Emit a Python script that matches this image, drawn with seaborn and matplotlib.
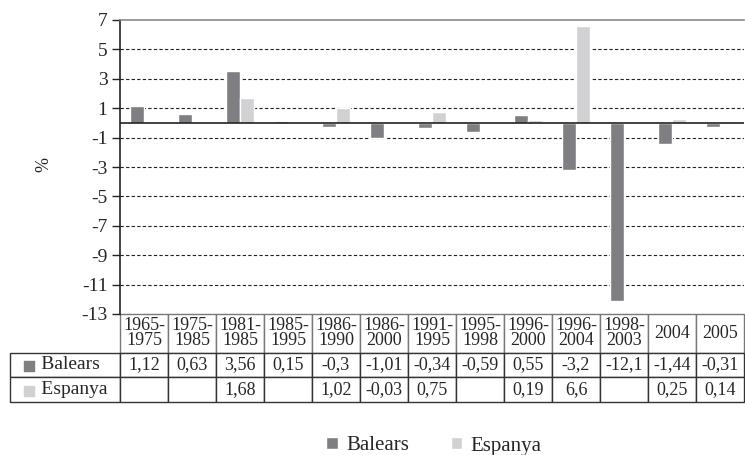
import numpy as np
import pandas as pd
import matplotlib
matplotlib.use('Agg')
import matplotlib.pyplot as plt
import seaborn as sns

# dades
periodes = ['1965-\n1975', '1975-\n1985', '1981-\n1985', '1985-\n1995', '1986-\n1990',
            '1986-\n2000', '1991-\n1995', '1995-\n1998', '1996-\n2000', '1996-\n2004',
            '1998-\n2003', '2004', '2005']
balears = [1.12, 0.63, 3.56, 0.15, -0.3, -1.01, -0.34, -0.59, 0.55, -3.2, -12.1, -1.44, -0.31]
espanya = [np.nan, np.nan, 1.68, np.nan, 1.02, -0.03, 0.75, np.nan, 0.19, 6.6, np.nan, 0.25, 0.14]
series = ['Balears', 'Espanya']
colors = ['#7f7f83', '#d1d1d3']

df = pd.DataFrame({'periode': periodes * 2,
                   'serie': ['Balears'] * len(periodes) + ['Espanya'] * len(periodes),
                   'valor': balears + espanya})

sns.set_style('white')
plt.rcParams['font.family'] = ['Liberation Serif', 'DejaVu Serif']
plt.rcParams['axes.unicode_minus'] = False
SERIF = 'Liberation Serif'

fig = plt.figure(figsize=(7.45, 4.55), dpi=100)
ax = fig.add_axes([120 / 745, 1 - 314 / 455, 624 / 745, 294 / 455])

sns.barplot(data=df, x='periode', y='valor', hue='serie', order=periodes, hue_order=series,
            palette=colors, width=0.6, saturation=1, ax=ax, legend=True, errorbar=None)

ax.set_xlim(-0.5, len(periodes) - 0.5)
ax.set_ylim(-13, 7)
ax.set_yticks(range(-13, 8, 2))
ax.tick_params(axis='y', labelsize=14, length=6, width=1, color='#222222', pad=3, direction='out', left=True)
for lb in ax.get_yticklabels():
    lb.set_fontfamily(SERIF)
ax.set_xticks([])
ax.set_xlabel('')
ax.set_ylabel('%', fontsize=13, fontfamily=SERIF)
ax.yaxis.set_label_coords((52 - 120) / 624, 0.507)

for t in range(-11, 7, 2):
    ax.axhline(t, color='#222222', lw=0.8, ls=(0, (3, 2)), zorder=0)
ax.axhline(0, color='#222222', lw=1.2, zorder=3)

for s in ['right', 'bottom']:
    ax.spines[s].set_visible(False)
ax.spines['top'].set_color('#8a8a8a')
ax.spines['top'].set_linewidth(1.2)
ax.spines['left'].set_color('#222222')
ax.spines['left'].set_linewidth(1.2)


def fmt(v):
    if np.isnan(v):
        return ''
    return f'{v:g}'.replace('.', ',')


cell_text = [['      Balears'] + [fmt(v) for v in balears],
             ['      Espanya'] + [fmt(v) for v in espanya]]
tab = ax.table(cellText=cell_text, colLabels=[''] + periodes,
               colWidths=[110] + [48] * len(periodes),
               bbox=[-110 / 624, -88 / 294, 734 / 624, 88 / 294], cellLoc='center')
tab.auto_set_font_size(False)
tab.set_fontsize(13)
for (r, c), cell in tab.get_celld().items():
    cell.set_edgecolor('#333333')
    cell.set_linewidth(1)
    cell.PAD = 0.02
    cell.get_text().set_fontfamily(SERIF)
    if r == 0:
        cell.set_height(39)
        cell.set_edgecolor('#777777')
        cell.get_text().set_linespacing(0.85)
        if c == 0:
            cell.visible_edges = ''
    else:
        cell.set_height(25)
    if c == 0 and r > 0:
        cell.get_text().set_fontsize(14)
        cell.get_text().set_ha('left')
        cell._loc = 'left'

# quadrets de la llegenda dins la taula
for i, col in enumerate(colors):
    y = (-(39 + 25 * i + 12.5)) / 294
    ax.scatter([(27 - 120) / 624 + 0.004], [y], marker='s', s=45, color=col,
               transform=ax.transAxes, clip_on=False, zorder=5)

ax.get_legend().remove()
handles, labels = ax.get_legend_handles_labels()
fig.legend(handles, labels, loc='center', bbox_to_anchor=(434 / 745, 1 - 446 / 455), ncol=2,
           frameon=False, prop={'family': SERIF, 'size': 15}, handlelength=0.55, handleheight=0.55,
           handletextpad=0.4, columnspacing=2.0)

fig.savefig('out.png', dpi=100)
